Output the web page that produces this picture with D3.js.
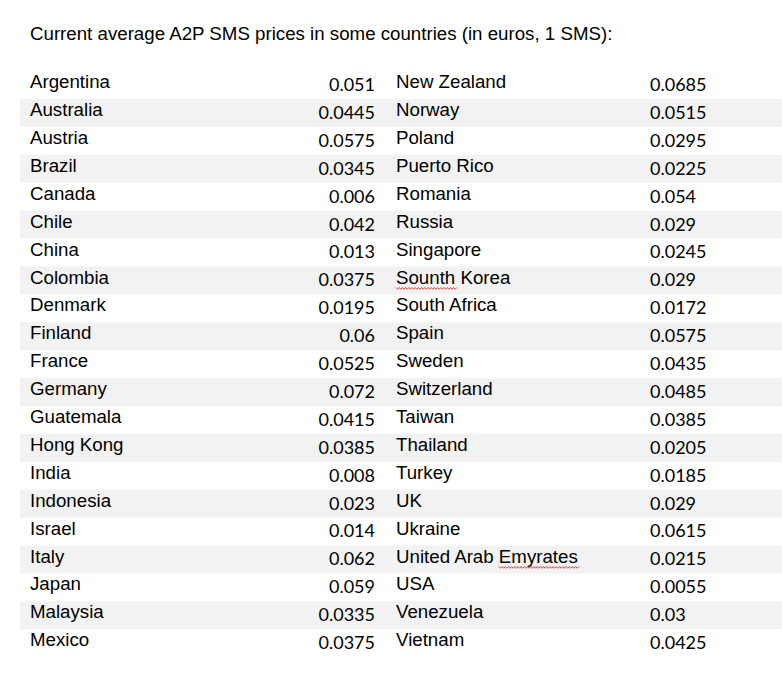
<!DOCTYPE html>
<html><head><meta charset="utf-8">
<script src="https://cdn.jsdelivr.net/npm/d3@7"></script>
<style>html,body{margin:0;padding:0;background:#fff;}svg{display:block;}</style>
</head><body>
<script>
const title = "Current average A2P SMS prices in some countries (in euros, 1 SMS):";
const leftCountries = ["Argentina","Australia","Austria","Brazil","Canada","Chile","China","Colombia","Denmark","Finland","France","Germany","Guatemala","Hong Kong","India","Indonesia","Israel","Italy","Japan","Malaysia","Mexico"];
const leftPrices = [0.051,0.0445,0.0575,0.0345,0.006,0.042,0.013,0.0375,0.0195,0.06,0.0525,0.072,0.0415,0.0385,0.008,0.023,0.014,0.062,0.059,0.0335,0.0375];
const rightCountries = ["New Zealand","Norway","Poland","Puerto Rico","Romania","Russia","Singapore","Sounth Korea","South Africa","Spain","Sweden","Switzerland","Taiwan","Thailand","Turkey","UK","Ukraine","United Arab Emyrates","USA","Venezuela","Vietnam"];
const rightPrices = [0.0685,0.0515,0.0295,0.0225,0.054,0.029,0.0245,0.029,0.0172,0.0575,0.0435,0.0485,0.0385,0.0205,0.0185,0.029,0.0615,0.0215,0.0055,0.03,0.0425];
const misspelled = {"Sounth Korea":"Sounth","United Arab Emyrates":"Emyrates"};

const W = 782, H = 681;
const svg = d3.select("body").append("svg").attr("width", W).attr("height", H);

const rows = d3.range(leftCountries.length);
const y = d3.scaleBand().domain(rows).range([71.2, 71.2 + 27.9 * rows.length]).paddingInner(0).paddingOuter(0);
const x = d3.scaleOrdinal().domain(["bandStart","leftName","leftValue","rightName","rightValue"]).range([20, 30, 375, 396, 650]);

const labelFont = "Arial, 'Liberation Sans', sans-serif";
const numFont = "Lato, Calibri, Carlito, sans-serif";
const labelSize = 18.7;

svg.append("text").attr("x", 30).attr("y", 40)
  .attr("font-family", labelFont).attr("font-size", labelSize).attr("fill", "#000")
  .text(title);

// striped bands
svg.append("g").selectAll("rect").data(rows.filter(i => i % 2 === 1)).join("rect")
  .attr("x", x("bandStart")).attr("y", i => y(i))
  .attr("width", W - x("bandStart")).attr("height", y.bandwidth())
  .attr("fill", "#f2f2f2");

const g = svg.append("g");
g.selectAll("text.ln").data(rows).join("text").attr("class","ln")
  .attr("x", x("leftName")).attr("y", i => y(i) + 17)
  .attr("font-family", labelFont).attr("font-size", labelSize).attr("fill", "#000")
  .text(i => leftCountries[i]);
g.selectAll("text.lv").data(rows).join("text").attr("class","lv")
  .attr("x", x("leftValue")).attr("y", i => y(i) + 19.8)
  .attr("text-anchor", "end")
  .attr("font-family", numFont).attr("font-size", 18).attr("fill", "#000")
  .text(i => String(leftPrices[i]));
const rn = g.selectAll("text.rn").data(rows).join("text").attr("class","rn")
  .attr("x", x("rightName")).attr("y", i => y(i) + 17)
  .attr("font-family", labelFont).attr("font-size", labelSize).attr("fill", "#000")
  .text(i => rightCountries[i]);
g.selectAll("text.rv").data(rows).join("text").attr("class","rv")
  .attr("x", x("rightValue")).attr("y", i => y(i) + 19.8)
  .attr("font-family", numFont).attr("font-size", 18).attr("fill", "#000")
  .text(i => String(rightPrices[i]));

// spell-check squiggles
rn.each(function(i) {
  const name = rightCountries[i];
  const word = misspelled[name];
  if (!word) return;
  const start = name.indexOf(word);
  const x0 = x("rightName") + (start > 0 ? this.getSubStringLength(0, start) : 0);
  const w = this.getSubStringLength(start, word.length);
  const yy = y(i) + 21;
  let d = `M${x0},${yy}`;
  for (let t = 0, k = 0; t < w; t += 1.6, k++) {
    d += ` L${x0 + t + 1.6},${yy + (k % 2 === 0 ? 1.8 : 0)}`;
  }
  g.append("path").attr("d", d).attr("fill", "none").attr("stroke", "#e03030").attr("stroke-width", 0.9);
});
</script>
</body></html>
